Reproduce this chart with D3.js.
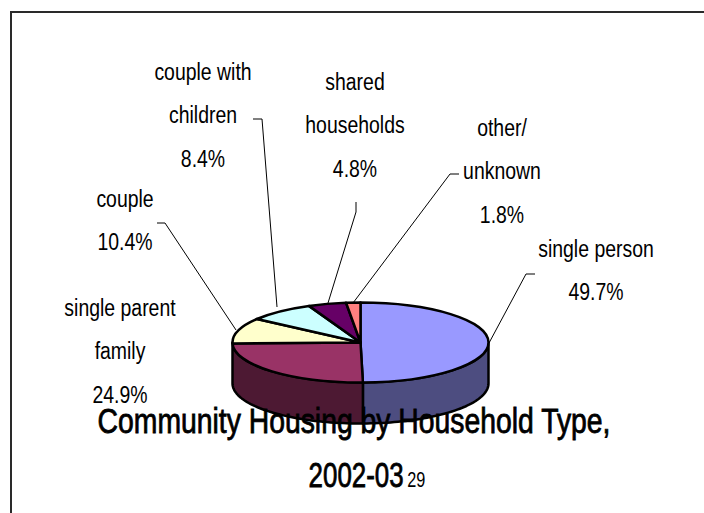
<!DOCTYPE html>
<html>
<head>
<meta charset="utf-8">
<script src="https://cdn.jsdelivr.net/npm/d3@7"></script>
<style>
html,body{margin:0;padding:0;background:#fff;overflow:hidden;}
svg{display:block;}
text{font-family:"Liberation Sans",sans-serif;fill:#000;}
</style>
</head>
<body>
<svg id="chart" width="704" height="513"></svg>
<script>
// Household types, clockwise from twelve o'clock
const categories = ["single person","single parent family","couple","couple with children","shared households","other/ unknown"];
const shares = [49.7,24.9,10.4,8.4,4.8,1.8];
const topColours = ["#9999ff","#993366","#ffffcc","#ccffff","#660066","#ff8080"];
const sideColours = ["#4d4d80","#4d1933"];
const labelLines = [["single person","49.7%"],["single parent","family","24.9%"],["couple","10.4%"],["couple with","children","8.4%"],["shared","households","4.8%"],["other/","unknown","1.8%"]];
const labelAnchors = [[596,257],[120,316],[125,207],[203,80],[355,90],[502,136]];
const leaderPaths = [
  [[535,274],[526,274],[489,343]],
  [[157,223],[165,223],[236,330]],
  [[253,119],[262,119],[277,307]],
  [[356,202],[356,212],[328,303]],
  [[459,174],[450,174],[353,303]]
];
const titleLines = ["Community Housing by Household Type,","2002-03"];
const titleNote = "29";

const svg = d3.select("#chart");
const cx = 360.5, cy = 342.5, rx = 128, ry = 40, depth = 41;
const narrow = 0.81, narrowDigits = 0.74;

// Picture frame: top and left edges only
svg.append("path")
  .attr("d", d3.line()([[11,513],[11,12],[704,12]]))
  .attr("fill","none").attr("stroke","#2a2a2a").attr("stroke-width",2);

const arcs = d3.pie().sort(null).value(d => d)(shares);
const angle = d3.scaleLinear().domain([0,1]);
const rim = a => [cx + rx*Math.sin(a), cy - ry*Math.cos(a)];

// Outer wall of the disc, for the slices that face the viewer
const wallSpans = [[Math.PI/2, arcs[0].endAngle], [arcs[0].endAngle, 3*Math.PI/2]];
const wall = d3.area().x(d => d[0]).y0(d => d[1]).y1(d => d[1] + depth);
wallSpans.forEach((span,i) => {
  angle.range(span);
  svg.append("path")
    .attr("d", wall(d3.range(0,1.0001,0.02).map(t => rim(angle(t)))))
    .attr("fill", sideColours[i])
    .attr("stroke","#000").attr("stroke-width",2.5).attr("stroke-linejoin","round");
});

// Top face: flattened pie
const face = svg.append("g").attr("transform",`translate(${cx},${cy}) scale(1,${ry/rx})`);
face.selectAll("path").data(arcs).join("path")
  .attr("d", d3.arc().innerRadius(0).outerRadius(rx))
  .attr("fill",(d,i) => topColours[i])
  .attr("stroke","#000").attr("stroke-width",2.5)
  .attr("stroke-linejoin","round")
  .attr("vector-effect","non-scaling-stroke");

// Leader lines
svg.selectAll("path.leader").data(leaderPaths).join("path")
  .attr("class","leader")
  .attr("d", d3.line())
  .attr("fill","none").attr("stroke","#000").attr("stroke-width",1);

// Slice labels, condensed horizontally
const labels = svg.selectAll("text.label").data(labelLines).join("text")
  .attr("class","label")
  .attr("text-anchor","middle")
  .attr("font-size",24)
  .attr("transform",(d,i) => `translate(${labelAnchors[i][0]},${labelAnchors[i][1]}) scale(${narrow},1)`);
labels.each(function(lines){
  d3.select(this).selectAll("tspan").data(lines).join("tspan")
    .attr("x",0)
    .attr("y",(d,j) => j*43.5)
    .text(d => d);
});

// Title sits over the disc
const title = svg.append("g").attr("text-anchor","middle").attr("font-size",35)
  .attr("stroke","#000").attr("stroke-width",0.8);
title.append("text").attr("transform",`translate(354,433) scale(${narrow},1)`).text(titleLines[0]);
const second = title.append("text").attr("transform",`translate(367,487) scale(${narrowDigits},1)`);
second.append("tspan").text(titleLines[1]);
second.append("tspan").attr("font-size",22).attr("dx",5).attr("stroke-width",0).text(titleNote);
</script>
</body>
</html>
